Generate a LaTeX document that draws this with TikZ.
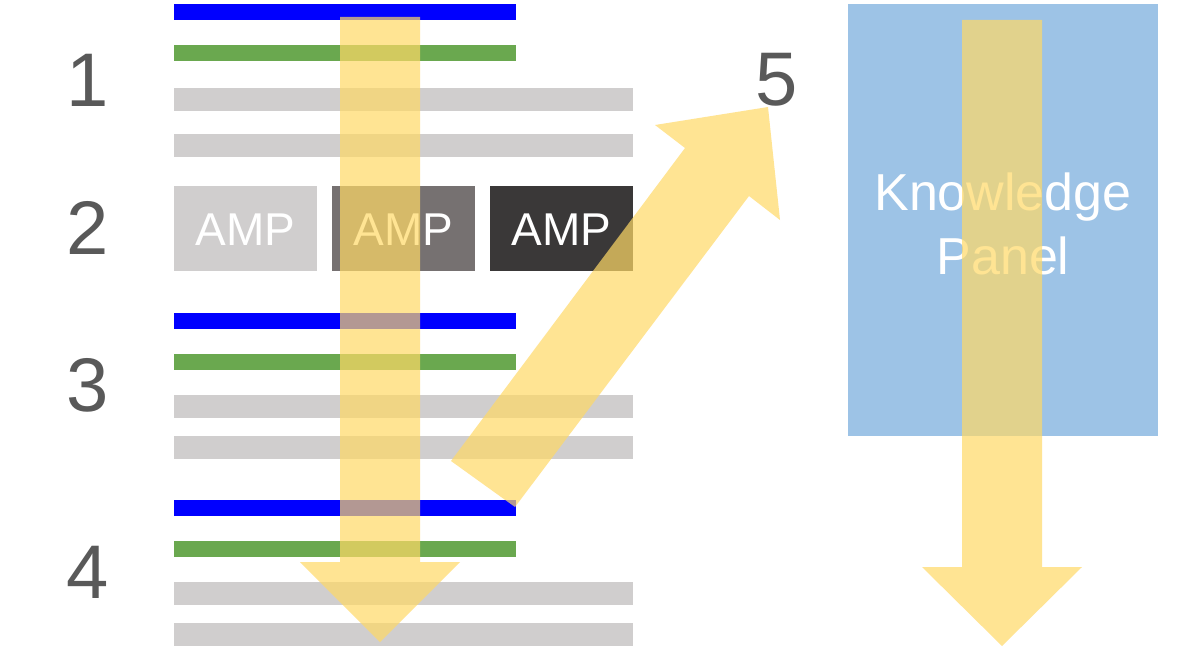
\documentclass[tikz,border=0pt]{standalone}
\usepackage{fontspec}
\setmainfont{Liberation Sans}
\definecolor{bl}{HTML}{0000FF}
\definecolor{gr}{HTML}{6AA84F}
\definecolor{lg}{HTML}{D0CECE}
\definecolor{mg}{HTML}{767171}
\definecolor{dg}{HTML}{3A3838}
\definecolor{kp}{HTML}{9DC3E6}
\definecolor{num}{HTML}{595959}
\definecolor{arr}{HTML}{FFD966}
\begin{document}
\begin{tikzpicture}[x=1pt,y=-1pt,
  num/.style={text=num,font=\fontsize{76}{76}\selectfont,inner sep=0},
  amp/.style={text=white,font=\fontsize{46}{46}\selectfont,inner sep=0},
  yarrow/.style={fill=arr,fill opacity=0.7,draw=none}]
\useasboundingbox (0,0) rectangle (1200,666);
\fill[white] (0,0) rectangle (1200,666);
% bars
\foreach \y in {4,313,500}{
  \fill[bl] (174,\y) rectangle (516,\y+16);
  \fill[gr] (174,\y+41) rectangle (516,\y+57);
}
\foreach \y in {88,134,395,436,582,623}{
  \fill[lg] (174,\y) rectangle (633,\y+23);
}
\fill[lg] (174,186) rectangle (317,271);
\fill[mg] (332,186) rectangle (475,271);
\fill[dg] (490,186) rectangle (633,271);
\node[amp] (a1) at (245.5,230) {AMP};
\node[amp] (a2) at (403.5,230) {AMP};
\node[amp] (a3) at (561.5,230) {AMP};
\fill[kp] (848,4) rectangle (1158,436);
\node[text=white,font=\fontsize{52}{64}\selectfont,align=center,inner sep=0] (kp) at (1003,224) {Knowledge\\Panel};
\node[num] (n1) at (88,80) {1};
\node[num] (n2) at (88,228) {2};
\node[num] (n3) at (88,385) {3};
\node[num] (n4) at (88,572) {4};
\node[num] (n5) at (777,80) {5};
% arrows
\path[yarrow] (340,17) -- (420,17) -- (420,562) -- (460,562) -- (380,642) -- (300,562) -- (340,562) -- cycle;
\path[yarrow] (962,20) -- (1042,20) -- (1042,567) -- (1082,567) -- (1002,646) -- (922,567) -- (962,567) -- cycle;
\path[yarrow] (451,461) -- (515,507) -- (749,196) -- (780,220) -- (768,107) -- (655,125) -- (685,148) -- cycle;
\end{tikzpicture}
\end{document}
